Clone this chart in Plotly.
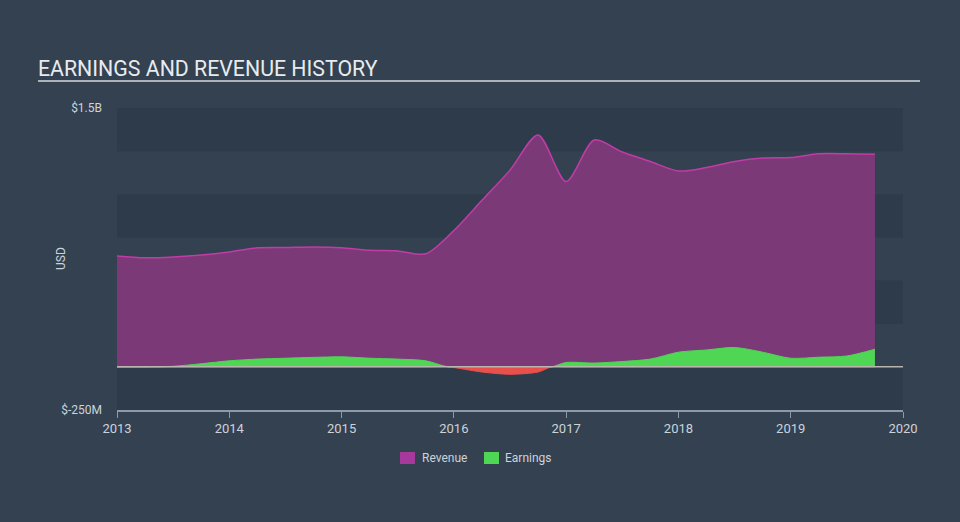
import plotly.graph_objects as go

# ---- data (values in USD billions, x as decimal year) ----
rev_x = [2013.0, 2013.25, 2013.5, 2013.75, 2014.0, 2014.25, 2014.5, 2014.75,
         2015.0, 2015.25, 2015.5, 2015.75, 2016.0, 2016.25, 2016.5, 2016.75,
         2017.0, 2017.25, 2017.5, 2017.75, 2018.0, 2018.25, 2018.5, 2018.75,
         2019.0, 2019.25, 2019.5, 2019.75]
revenue = [0.643, 0.632, 0.637, 0.648, 0.666, 0.690, 0.692, 0.695,
           0.690, 0.675, 0.672, 0.655, 0.790, 0.965, 1.140, 1.344,
           1.074, 1.315, 1.245, 1.190, 1.135, 1.155, 1.190, 1.210,
           1.213, 1.235, 1.235, 1.232]

earn_x = [2013.0, 2013.25, 2013.5, 2013.75, 2014.0, 2014.25, 2014.5, 2014.75,
          2015.0, 2015.25, 2015.5, 2015.75, 2015.95, 2016.25, 2016.5, 2016.75,
          2016.87, 2017.0, 2017.25, 2017.5, 2017.75, 2018.0, 2018.25, 2018.5,
          2018.75, 2019.0, 2019.25, 2019.5, 2019.75]
earnings = [-0.003, -0.002, 0.003, 0.018, 0.035, 0.045, 0.050, 0.055,
            0.058, 0.050, 0.045, 0.035, 0.0, -0.030, -0.043, -0.030,
            0.0, 0.025, 0.022, 0.031, 0.045, 0.085, 0.098, 0.112,
            0.085, 0.050, 0.056, 0.063, 0.102]

x_ticks = [2013, 2014, 2015, 2016, 2017, 2018, 2019, 2020]
y_ticks = [1.5, -0.25]
y_ticktext = ["$1.5B", "$-250M"]
series_names = ["Revenue", "Earnings"]

BG = "#334151"
BAND = "#2e3b4a"
REV_FILL = "#7b3a77"
REV_LINE = "#c03ca6"
GREEN = "#4fd655"
RED = "#e8504c"
TXT = "#cdd3d9"
LEG_COLORS = ["#a8399c", GREEN]

# plot area in pixels: x 117..903, y 108..410
PL, PR, PT, PB = 117, 903, 108, 410
def px(xp):
    return (xp - PL) / (PR - PL)
def py(yp):
    return (PB - yp) / (PB - PT)

pos = [max(v, 0) for v in earnings]
neg = [min(v, 0) for v in earnings]

fig = go.Figure()
fig.add_trace(go.Scatter(x=rev_x, y=revenue, mode="lines", fill="tozeroy",
                         fillcolor=REV_FILL, line=dict(color=REV_LINE, width=1.5, shape="spline", smoothing=0.8),
                         showlegend=False, hoverinfo="skip"))
fig.add_trace(go.Scatter(x=earn_x, y=pos, mode="lines", fill="tozeroy",
                         fillcolor=GREEN, line=dict(color=GREEN, width=1, shape="spline", smoothing=0.8),
                         showlegend=False, hoverinfo="skip"))
fig.add_trace(go.Scatter(x=earn_x, y=neg, mode="lines", fill="tozeroy",
                         fillcolor=RED, line=dict(color=RED, width=1, shape="spline", smoothing=0.8),
                         showlegend=False, hoverinfo="skip"))

shapes = []
for lo, hi in [(1.25, 1.5), (0.75, 1.0), (0.25, 0.5), (-0.25, 0.0)]:
    shapes.append(dict(type="rect", xref="paper", yref="y", x0=0, x1=1, y0=lo, y1=hi,
                       fillcolor=BAND, line=dict(width=0), layer="below"))
shapes.append(dict(type="line", xref="paper", yref="y", x0=0, x1=1, y0=0, y1=0,
                   line=dict(color="#b9b4ad", width=1.5), layer="above"))
shapes.append(dict(type="line", xref="paper", yref="paper", x0=px(38), x1=px(920),
                   y0=py(81), y1=py(81), line=dict(color="#aab2ba", width=2)))

annotations = [
    dict(text="EARNINGS AND REVENUE HISTORY", xref="paper", yref="paper",
         x=px(36), y=py(68), xanchor="left", yanchor="middle", showarrow=False,
         font=dict(size=21.3, color="#e8ebee")),
    dict(text="USD", xref="paper", yref="paper", x=px(61), y=0.5,
         xanchor="center", yanchor="middle", textangle=-90, showarrow=False,
         font=dict(size=12, color=TXT)),
]

# custom legend
leg_sq_x = [400, 484]
leg_txt_x = [420, 503]
for name, col, sx, tx in zip(series_names, LEG_COLORS, leg_sq_x, leg_txt_x):
    shapes.append(dict(type="rect", xref="paper", yref="paper", x0=px(sx), x1=px(sx + 15),
                       y0=py(464), y1=py(452), fillcolor=col, line=dict(width=0)))
    annotations.append(dict(text=name, xref="paper", yref="paper", x=px(tx), y=py(458),
                            xanchor="left", yanchor="middle", showarrow=False,
                            font=dict(size=12, color=TXT)))

fig.update_layout(
    width=960, height=522,
    margin=dict(l=PL, r=960 - PR, t=PT, b=522 - PB),
    paper_bgcolor=BG, plot_bgcolor=BG,
    font=dict(family="Roboto, Open Sans, sans-serif", color=TXT, size=12),
    shapes=shapes,
    annotations=annotations,
    showlegend=False,
)
fig.update_xaxes(range=[2013, 2020], tickvals=x_ticks, showgrid=False, zeroline=False,
                 showline=True, linecolor="#8e9aa6", linewidth=1.5,
                 ticks="outside", ticklen=6, tickcolor="#8e9aa6",
                 tickfont=dict(size=13, color=TXT))
fig.update_yaxes(range=[-0.25, 1.5], tickvals=y_ticks, ticktext=y_ticktext, showgrid=False,
                 zeroline=False, showline=False, ticks="", ticklabelstandoff=14,
                 tickfont=dict(size=12, color=TXT))

fig.write_html("out.html")
